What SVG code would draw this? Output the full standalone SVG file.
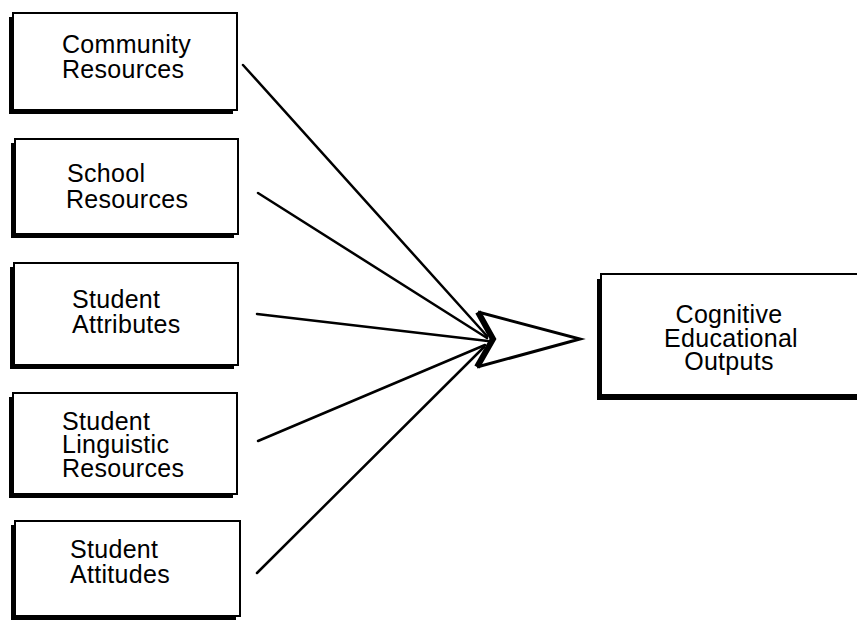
<svg xmlns="http://www.w3.org/2000/svg" width="857" height="625" viewBox="0 0 857 625">
<style>
.shadow{fill:#000}
.box{fill:#fff;stroke:#000;stroke-width:2}
.lbl{font-family:"Liberation Sans",Arial,Helvetica,sans-serif;font-size:25px;fill:#000;letter-spacing:0.3px}
.conn{stroke:#000;stroke-width:2.5;fill:none;stroke-linecap:round}
</style>
<rect width="857" height="625" fill="#fff"/>
<g id="community-resources">
<rect class="shadow" x="9" y="17" width="224" height="97"/>
<rect class="box" x="13" y="13" width="224" height="97"/>
<text class="lbl" x="62" y="53">Community</text>
<text class="lbl" x="62" y="78">Resources</text>
</g>
<g id="school-resources">
<rect class="shadow" x="11" y="143" width="223" height="95"/>
<rect class="box" x="15" y="139" width="223" height="95"/>
<text class="lbl" x="67" y="182">School</text>
<text class="lbl" x="66" y="208">Resources</text>
</g>
<g id="student-attributes">
<rect class="shadow" x="10" y="267" width="224" height="102"/>
<rect class="box" x="14" y="263" width="224" height="102"/>
<text class="lbl" x="72" y="308">Student</text>
<text class="lbl" x="72" y="333">Attributes</text>
</g>
<g id="student-linguistic-resources">
<rect class="shadow" x="9" y="397" width="224" height="101"/>
<rect class="box" x="13" y="393" width="224" height="101"/>
<text class="lbl" x="62" y="430">Student</text>
<text class="lbl" x="62" y="453">Linguistic</text>
<text class="lbl" x="62" y="477">Resources</text>
</g>
<g id="student-attitudes">
<rect class="shadow" x="11" y="525" width="225" height="95"/>
<rect class="box" x="15" y="521" width="225" height="95"/>
<text class="lbl" x="70" y="558">Student</text>
<text class="lbl" x="70" y="583">Attitudes</text>
</g>
<g id="cognitive-educational-outputs">
<rect class="shadow" x="597" y="279" width="270" height="121"/>
<rect class="box" x="601" y="274" width="270" height="121"/>
<text class="lbl" x="729" y="323" text-anchor="middle">Cognitive</text>
<text class="lbl" x="731" y="347" text-anchor="middle">Educational</text>
<text class="lbl" x="729" y="370" text-anchor="middle">Outputs</text>
</g>
<g id="connectors">
<line class="conn" x1="243" y1="65" x2="487" y2="336"/>
<line class="conn" x1="258" y1="193" x2="487" y2="338"/>
<line class="conn" x1="257" y1="314" x2="488" y2="341"/>
<line class="conn" x1="258" y1="441" x2="485" y2="345"/>
<line class="conn" x1="257" y1="573" x2="484" y2="347"/>
<g id="chevron">
<path d="M478,312 L580,339 L477,367" fill="none" stroke="#000" stroke-width="3" stroke-linejoin="miter"/>
<path d="M478,312 L493,339 L477,367" fill="none" stroke="#000" stroke-width="6" stroke-linejoin="miter"/>
</g>
</g>
</svg>
